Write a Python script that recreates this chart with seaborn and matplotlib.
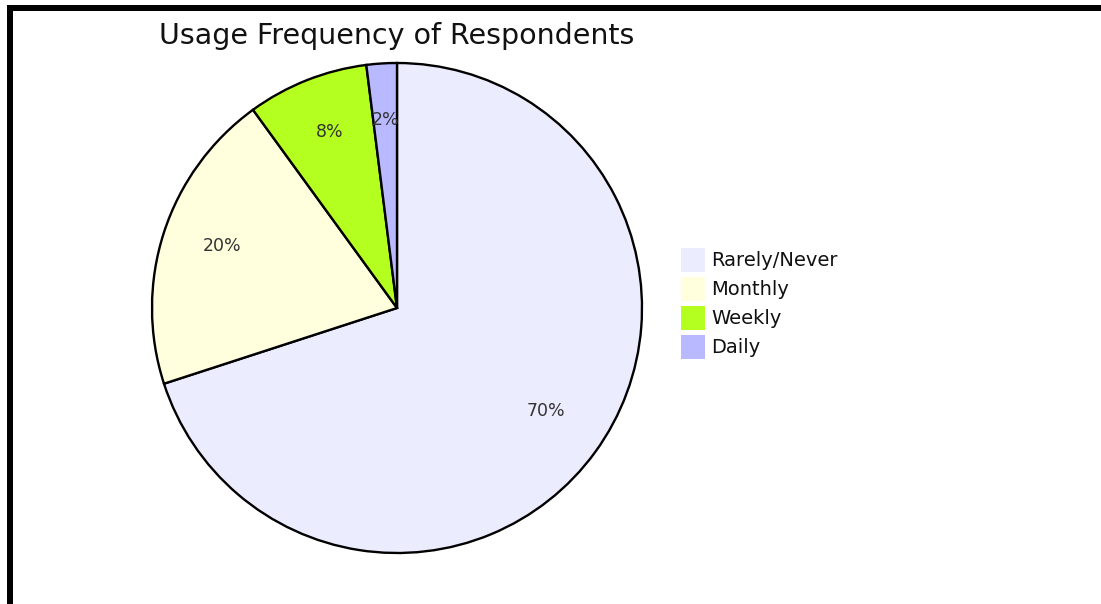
import matplotlib
matplotlib.use("Agg")
import matplotlib.pyplot as plt
import matplotlib.transforms as mtransforms
from matplotlib.patches import Rectangle, Patch
import seaborn as sns

# Survey answers: how often respondents use the service
categories = ["Rarely/Never", "Monthly", "Weekly", "Daily"]
shares = [70, 20, 8, 2]
slice_colors = ["#ECECFF", "#FFFFDE", "#B5FF20", "#B9B9FF"]
title = "Usage Frequency of Respondents"

sns.set_theme(style="white")
plt.rcParams["font.family"] = ["DejaVu Sans"]

W, H = 1101, 604
fig = plt.figure(figsize=(W / 100, H / 100), dpi=100)
fig.patch.set_facecolor("white")

# Pie axes: centre (397, 308) px, radius 245 px
cx, cy, r = 397, 308, 245
ax = fig.add_axes([(cx - r) / W, (H - cy - r) / H, 2 * r / W, 2 * r / H])
palette = sns.color_palette(slice_colors)
wedges, texts, autotexts = ax.pie(
    shares,
    colors=palette,
    startangle=90,
    counterclock=False,
    autopct=lambda p: f"{p:.0f}%",
    pctdistance=0.75,
    wedgeprops=dict(edgecolor="black", linewidth=1.7),
    textprops=dict(color="#333333", fontsize=12.5),
)
# lift the percentage labels slightly
for t in autotexts:
    t.set_transform(mtransforms.offset_copy(t.get_transform(), fig=fig, x=0, y=5, units="dots"))
ax.set_xlim(-1, 1)
ax.set_ylim(-1, 1)
ax.set_aspect("equal")
ax.axis("off")

fig.text(cx / W, 1 - 44 / H, title, ha="center", va="baseline",
         fontsize=20.5, color="#111111")

# Legend: 24 px swatches on a 29 px row pitch
handles = [Patch(facecolor=c, edgecolor="none") for c in palette]
fs = 14
fpx = fs * 100 / 72
swatch = 24
hh = (swatch - 0.245 * fpx) / (0.65 * fpx)
leg = fig.legend(
    handles, categories,
    loc="upper left",
    bbox_to_anchor=(681 / W, 1 - 248 / H),
    frameon=False,
    fontsize=fs,
    handlelength=swatch / fpx,
    handleheight=hh,
    handletextpad=6 / fpx,
    labelspacing=5 / fpx,
    borderpad=0,
    borderaxespad=0,
)
for t in leg.get_texts():
    t.set_color("#111111")

# Frame bands along the top and left edges
fig.patches.append(Rectangle((7 / W, 0), 6 / W, 1 - 5 / H, transform=fig.transFigure,
                             facecolor="black", edgecolor="none"))
fig.patches.append(Rectangle((7 / W, 1 - 11 / H), 1 - 7 / W, 6 / H, transform=fig.transFigure,
                             facecolor="black", edgecolor="none"))

fig.savefig("out.png", dpi=100, facecolor="white")
